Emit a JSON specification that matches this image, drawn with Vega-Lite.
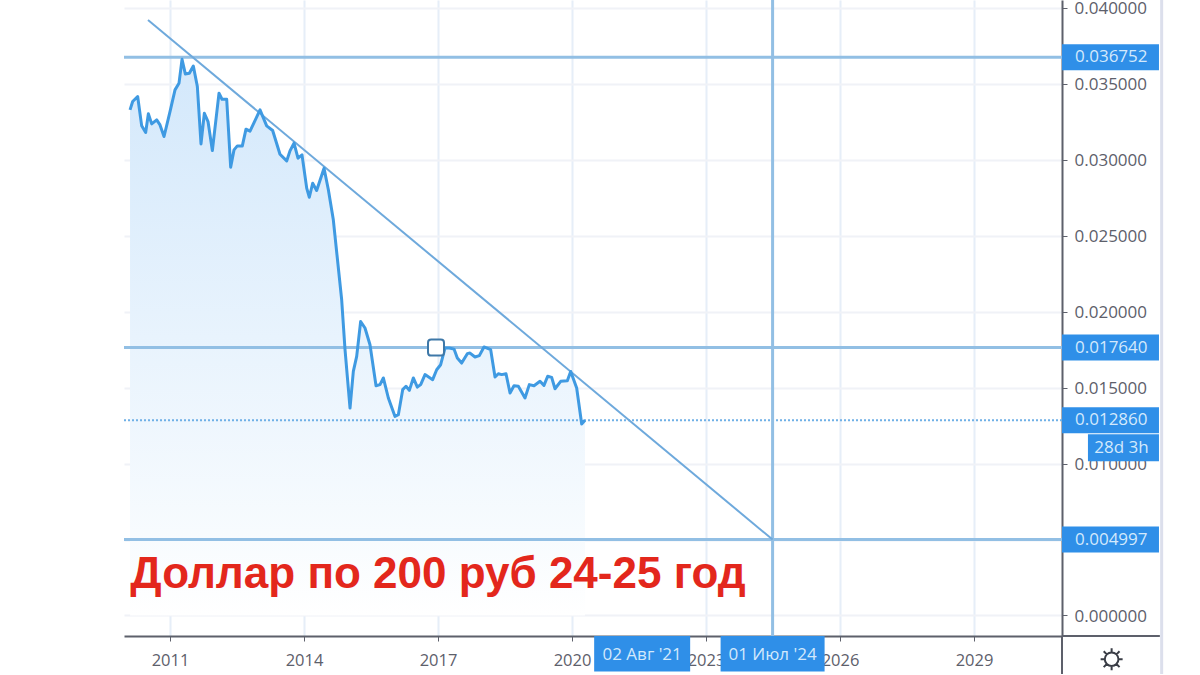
{
  "$schema": "https://vega.github.io/schema/vega-lite/v6.json",
  "description": "USD/RUB inverse monthly area with a falling trendline drawn to 2024",
  "width": 938,
  "height": 636,
  "autosize": "none",
  "padding": {"left": 124, "top": 0, "right": 138, "bottom": 39},
  "background": "#ffffff",
  "datasets": {
    "price": [
      {"year": 2010.105, "value": 0.03329}, {"year": 2010.164, "value": 0.03384}, {"year": 2010.276, "value": 0.03417},
      {"year": 2010.366, "value": 0.03224}, {"year": 2010.455, "value": 0.0318}, {"year": 2010.515, "value": 0.03303},
      {"year": 2010.59, "value": 0.03237}, {"year": 2010.702, "value": 0.03263}, {"year": 2010.776, "value": 0.0323},
      {"year": 2010.866, "value": 0.03154}, {"year": 2011.0, "value": 0.03318}, {"year": 2011.112, "value": 0.03461},
      {"year": 2011.201, "value": 0.03504}, {"year": 2011.269, "value": 0.03662}, {"year": 2011.343, "value": 0.03566},
      {"year": 2011.433, "value": 0.0357}, {"year": 2011.522, "value": 0.03618}, {"year": 2011.612, "value": 0.03483},
      {"year": 2011.694, "value": 0.03105}, {"year": 2011.769, "value": 0.03307}, {"year": 2011.851, "value": 0.03252},
      {"year": 2011.948, "value": 0.03061}, {"year": 2012.097, "value": 0.03439}, {"year": 2012.164, "value": 0.03399},
      {"year": 2012.269, "value": 0.03399}, {"year": 2012.358, "value": 0.02952}, {"year": 2012.433, "value": 0.03066},
      {"year": 2012.507, "value": 0.03092}, {"year": 2012.619, "value": 0.03092}, {"year": 2012.701, "value": 0.03202},
      {"year": 2012.791, "value": 0.03189}, {"year": 2013.015, "value": 0.03329}, {"year": 2013.164, "value": 0.03224},
      {"year": 2013.298, "value": 0.03193}, {"year": 2013.462, "value": 0.03037}, {"year": 2013.612, "value": 0.02993},
      {"year": 2013.686, "value": 0.03059}, {"year": 2013.776, "value": 0.0311}, {"year": 2013.865, "value": 0.03011},
      {"year": 2013.955, "value": 0.03033}, {"year": 2014.06, "value": 0.02814}, {"year": 2014.119, "value": 0.02754},
      {"year": 2014.194, "value": 0.02846}, {"year": 2014.283, "value": 0.02798}, {"year": 2014.448, "value": 0.02945},
      {"year": 2014.545, "value": 0.02803}, {"year": 2014.656, "value": 0.02605}, {"year": 2014.843, "value": 0.02079},
      {"year": 2014.918, "value": 0.0175}, {"year": 2015.03, "value": 0.01366}, {"year": 2015.104, "value": 0.01607},
      {"year": 2015.179, "value": 0.01706}, {"year": 2015.268, "value": 0.01936}, {"year": 2015.365, "value": 0.01893},
      {"year": 2015.477, "value": 0.01783}, {"year": 2015.612, "value": 0.01513}, {"year": 2015.701, "value": 0.0152},
      {"year": 2015.776, "value": 0.01564}, {"year": 2015.888, "value": 0.01432}, {"year": 2016.037, "value": 0.01311},
      {"year": 2016.112, "value": 0.01322}, {"year": 2016.209, "value": 0.01487}, {"year": 2016.283, "value": 0.01509},
      {"year": 2016.358, "value": 0.01482}, {"year": 2016.447, "value": 0.01564}, {"year": 2016.537, "value": 0.01504},
      {"year": 2016.612, "value": 0.0152}, {"year": 2016.709, "value": 0.01586}, {"year": 2016.88, "value": 0.01553},
      {"year": 2016.97, "value": 0.01618}, {"year": 2017.059, "value": 0.01651}, {"year": 2017.156, "value": 0.01761},
      {"year": 2017.253, "value": 0.01761}, {"year": 2017.358, "value": 0.01754}, {"year": 2017.432, "value": 0.01695},
      {"year": 2017.529, "value": 0.01662}, {"year": 2017.656, "value": 0.01724}, {"year": 2017.716, "value": 0.01728},
      {"year": 2017.828, "value": 0.01702}, {"year": 2017.925, "value": 0.01711}, {"year": 2018.029, "value": 0.01768},
      {"year": 2018.179, "value": 0.0175}, {"year": 2018.276, "value": 0.0157}, {"year": 2018.35, "value": 0.01592},
      {"year": 2018.425, "value": 0.01586}, {"year": 2018.522, "value": 0.01592}, {"year": 2018.612, "value": 0.01465},
      {"year": 2018.701, "value": 0.01513}, {"year": 2018.798, "value": 0.01509}, {"year": 2018.947, "value": 0.01432},
      {"year": 2019.044, "value": 0.0152}, {"year": 2019.149, "value": 0.01513}, {"year": 2019.283, "value": 0.01542},
      {"year": 2019.372, "value": 0.01515}, {"year": 2019.455, "value": 0.01575}, {"year": 2019.544, "value": 0.01568},
      {"year": 2019.619, "value": 0.01493}, {"year": 2019.746, "value": 0.01542}, {"year": 2019.895, "value": 0.01546},
      {"year": 2019.97, "value": 0.01607}, {"year": 2020.104, "value": 0.01498}, {"year": 2020.216, "value": 0.01261},
      {"year": 2020.29, "value": 0.01286}
    ],
    "levels": [
      {"value": 0.036752, "label": "0.036752"},
      {"value": 0.01764, "label": "0.017640"},
      {"value": 0.004997, "label": "0.004997"}
    ],
    "last": [{"value": 0.01286, "label": "0.012860"}],
    "trend": [
      {"year": 2010.507, "value": 0.03921},
      {"year": 2024.49, "value": 0.004997}
    ],
    "dates": [
      {"year": 2021.57, "label": "02 Авг '21"},
      {"year": 2024.49, "label": "01 Июл '24"}
    ]
  },
  "layer": [
    {
      "data": {"name": "price"},
      "mark": {
        "type": "area",
        "color": {
          "gradient": "linear",
          "x1": 1, "y1": 0, "x2": 1, "y2": 1,
          "stops": [
            {"offset": 0, "color": "#d3e8fb"},
            {"offset": 0.5, "color": "#e8f3fd"},
            {"offset": 0.85, "color": "#f7fbfe"},
            {"offset": 1, "color": "#ffffff"}
          ]
        }
      },
      "encoding": {
        "x": {
          "field": "year",
          "type": "quantitative",
          "title": null,
          "scale": {"domain": [2009.97, 2030.969], "nice": false, "zero": false},
          "axis": {
            "values": [2011, 2014, 2017, 2020, 2023, 2026, 2029],
            "format": "d",
            "grid": true,
            "gridColor": "#e6eef8",
            "gridWidth": 2,
            "domainColor": "#5d606b",
            "domainWidth": 2,
            "tickColor": "#5d606b",
            "tickSize": 5,
            "labelFont": "Open Sans",
            "labelFontSize": 16.5,
            "labelColor": "#5d606b",
            "labelPadding": 11,
            "labelFlush": false,
            "labelOverlap": false
          }
        },
        "y": {
          "field": "value",
          "type": "quantitative",
          "title": null,
          "scale": {"domain": [-0.00135, 0.040526], "nice": false, "zero": false},
          "axis": {
            "orient": "right",
            "values": [0, 0.005, 0.01, 0.015, 0.02, 0.025, 0.03, 0.035, 0.04],
            "format": ".6f",
            "grid": true,
            "gridColor": "#f0f2f7",
            "gridWidth": 2,
            "domainColor": "#5d606b",
            "domainWidth": 2,
            "tickColor": "#5d606b",
            "tickSize": 5,
            "labelFont": "Open Sans",
            "labelFontSize": 17,
            "labelColor": "#5d606b",
            "labelPadding": 7,
            "labelOffset": 1,
            "labelOverlap": false
          }
        },
        "y2": {"datum": 0}
      }
    },
    {
      "data": {"name": "levels"},
      "mark": {"type": "rule", "color": "#92bfe4", "strokeWidth": 3},
      "encoding": {
        "x": {"datum": 2009.97, "type": "quantitative", "title": null},
        "x2": {"datum": 2030.969},
        "y": {"field": "value", "type": "quantitative", "title": null}
      }
    },
    {
      "data": {"name": "last"},
      "mark": {"type": "rule", "color": "#6fb0e6", "strokeWidth": 2, "strokeDash": [2, 2]},
      "encoding": {
        "x": {"datum": 2009.97, "type": "quantitative", "title": null},
        "x2": {"datum": 2030.969},
        "y": {"field": "value", "type": "quantitative", "title": null}
      }
    },
    {
      "data": {"values": [{"year": 2024.49}]},
      "mark": {"type": "rule", "color": "#92bfe4", "strokeWidth": 3},
      "encoding": {
        "x": {"field": "year", "type": "quantitative", "title": null},
        "y": {"datum": -0.00135, "type": "quantitative", "title": null},
        "y2": {"datum": 0.040526}
      }
    },
    {
      "data": {"name": "trend"},
      "mark": {"type": "line", "color": "#6ea9dc", "strokeWidth": 2},
      "encoding": {
        "x": {"field": "year", "type": "quantitative", "title": null},
        "y": {"field": "value", "type": "quantitative", "title": null}
      }
    },
    {
      "data": {"name": "price"},
      "mark": {"type": "line", "color": "#3f9ae2", "strokeWidth": 3, "strokeJoin": "round"},
      "encoding": {
        "x": {"field": "year", "type": "quantitative", "title": null},
        "y": {"field": "value", "type": "quantitative", "title": null}
      }
    },
    {
      "data": {"values": [{"year": 2016.955, "value": 0.01764}]},
      "mark": {
        "type": "point",
        "shape": "M-0.6,-1L0.6,-1Q1,-1 1,-0.6L1,0.6Q1,1 0.6,1L-0.6,1Q-1,1 -1,0.6L-1,-0.6Q-1,-1 -0.6,-1Z",
        "size": 256,
        "filled": true,
        "fill": "#ffffff",
        "stroke": "#3e78a8",
        "strokeWidth": 2,
        "opacity": 1
      },
      "encoding": {
        "x": {"field": "year", "type": "quantitative", "title": null},
        "y": {"field": "value", "type": "quantitative", "title": null}
      }
    },
    {
      "data": {"values": [{"value": -0.00135}]},
      "mark": {"type": "rule", "color": "#5d606b", "strokeWidth": 2},
      "encoding": {
        "x": {"datum": 2030.969, "type": "quantitative", "title": null},
        "x2": {"datum": 2033.16},
        "y": {"field": "value", "type": "quantitative", "title": null}
      }
    },
    {
      "data": {"values": [{"year": 2030.969}]},
      "mark": {"type": "rule", "color": "#5d606b", "strokeWidth": 2},
      "encoding": {
        "x": {"field": "year", "type": "quantitative", "title": null},
        "y": {"datum": -0.00135, "type": "quantitative", "title": null},
        "y2": {"datum": -0.00385}
      }
    },
    {
      "data": {"values": [{"year": 2033.2}]},
      "mark": {"type": "rule", "color": "#dcdfec", "strokeWidth": 3},
      "encoding": {
        "x": {"field": "year", "type": "quantitative", "title": null},
        "y": {"datum": -0.00385, "type": "quantitative", "title": null},
        "y2": {"datum": 0.040526}
      }
    },
    {
      "data": {"name": "levels"},
      "mark": {"type": "rule", "color": "#2f8fe8", "strokeWidth": 26},
      "encoding": {
        "x": {"datum": 2030.969, "type": "quantitative", "title": null},
        "x2": {"datum": 2033.14},
        "y": {"field": "value", "type": "quantitative", "title": null}
      }
    },
    {
      "data": {"name": "last"},
      "mark": {"type": "rule", "color": "#2f8fe8", "strokeWidth": 26},
      "encoding": {
        "x": {"datum": 2030.969, "type": "quantitative", "title": null},
        "x2": {"datum": 2033.14},
        "y": {"field": "value", "type": "quantitative", "title": null}
      }
    },
    {
      "data": {"values": [{"value": 0.01105}]},
      "mark": {"type": "rule", "color": "#2f8fe8", "strokeWidth": 27},
      "encoding": {
        "x": {"datum": 2031.55, "type": "quantitative", "title": null},
        "x2": {"datum": 2033.14},
        "y": {"field": "value", "type": "quantitative", "title": null}
      }
    },
    {
      "data": {"name": "levels"},
      "mark": {"type": "text", "align": "left", "baseline": "middle", "font": "Open Sans", "fontSize": 17, "color": "#d3e9fc"},
      "encoding": {
        "x": {"datum": 2031.26, "type": "quantitative", "title": null},
        "y": {"field": "value", "type": "quantitative", "title": null},
        "text": {"field": "label"}
      }
    },
    {
      "data": {"name": "last"},
      "mark": {"type": "text", "align": "left", "baseline": "middle", "font": "Open Sans", "fontSize": 17, "color": "#d3e9fc"},
      "encoding": {
        "x": {"datum": 2031.26, "type": "quantitative", "title": null},
        "y": {"field": "value", "type": "quantitative", "title": null},
        "text": {"field": "label"}
      }
    },
    {
      "data": {"values": [{"value": 0.01105, "label": "28d 3h"}]},
      "mark": {"type": "text", "align": "left", "baseline": "middle", "font": "Open Sans", "fontSize": 17, "color": "#d3e9fc"},
      "encoding": {
        "x": {"datum": 2031.69, "type": "quantitative", "title": null},
        "y": {"field": "value", "type": "quantitative", "title": null},
        "text": {"field": "label"}
      }
    },
    {
      "data": {"name": "dates"},
      "transform": [{"filter": "datum.year < 2023"}],
      "mark": {"type": "rule", "color": "#2f8fe8", "strokeWidth": 96},
      "encoding": {
        "x": {"field": "year", "type": "quantitative", "title": null},
        "y": {"datum": -0.00135, "type": "quantitative", "title": null},
        "y2": {"datum": -0.00368}
      }
    },
    {
      "data": {"name": "dates"},
      "transform": [{"filter": "datum.year > 2023"}],
      "mark": {"type": "rule", "color": "#2f8fe8", "strokeWidth": 104},
      "encoding": {
        "x": {"field": "year", "type": "quantitative", "title": null},
        "y": {"datum": -0.00135, "type": "quantitative", "title": null},
        "y2": {"datum": -0.00368}
      }
    },
    {
      "data": {"name": "dates"},
      "mark": {"type": "text", "align": "center", "baseline": "middle", "font": "Open Sans", "fontSize": 17, "color": "#d3e9fc"},
      "encoding": {
        "x": {"field": "year", "type": "quantitative", "title": null},
        "y": {"datum": -0.00258, "type": "quantitative", "title": null},
        "text": {"field": "label"}
      }
    },
    {
      "data": {"values": [{"year": 2010.11, "value": 0.00184, "label": "Доллар по 200 руб 24-25 год"}]},
      "mark": {"type": "text", "align": "left", "baseline": "alphabetic", "font": "Liberation Sans", "fontWeight": "bold", "fontSize": 44, "color": "#e3271c"},
      "encoding": {
        "x": {"field": "year", "type": "quantitative", "title": null},
        "y": {"field": "value", "type": "quantitative", "title": null},
        "text": {"field": "label"}
      }
    },
    {
      "data": {"values": [{"year": 2032.08, "value": -0.00288}]},
      "mark": {
        "type": "point",
        "shape": "M-0.62,0A0.62,0.62 0 1,1 0.62,0A0.62,0.62 0 1,1 -0.62,0ZM0,-1L0,-0.62M0,1L0,0.62M-1,0L-0.62,0M1,0L0.62,0M-0.72,-0.72L-0.44,-0.44M0.72,-0.72L0.44,-0.44M-0.72,0.72L-0.44,0.44M0.72,0.72L0.44,0.44",
        "size": 484,
        "filled": false,
        "stroke": "#3a3d46",
        "strokeWidth": 2,
        "opacity": 1
      },
      "encoding": {
        "x": {"field": "year", "type": "quantitative", "title": null},
        "y": {"field": "value", "type": "quantitative", "title": null}
      }
    }
  ],
  "config": {"view": {"stroke": null}}
}
